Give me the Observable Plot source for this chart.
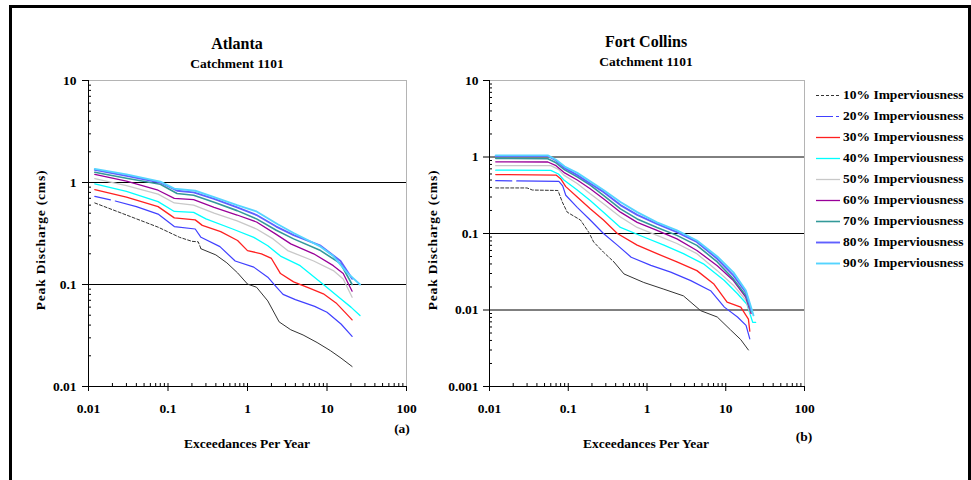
<!DOCTYPE html>
<html><head><meta charset="utf-8">
<script src="https://cdn.jsdelivr.net/npm/d3@7"></script>
<script src="https://cdn.jsdelivr.net/npm/@observablehq/plot@0.6"></script>
<style>
html,body{margin:0;padding:0;background:#fff;width:971px;height:480px;overflow:hidden;}
body{position:relative;font-family:"Liberation Serif","Times New Roman",serif;font-weight:bold;color:#000;}
.t{position:absolute;transform:translate(-50%,-50%);white-space:nowrap;font-size:13.5px;line-height:1;}
.title{font-size:16px;}
.rot{transform:translate(-50%,-50%) rotate(-90deg);letter-spacing:0.8px;}
.frame{position:absolute;left:9px;top:5px;width:956px;height:520px;border:3px solid #000;pointer-events:none;z-index:10;}
.panel{position:absolute;top:0;}
#legend{position:absolute;left:0;top:0;}
.lg{position:absolute;left:816px;height:20px;white-space:nowrap;font-size:13.5px;line-height:20px;}
.lg svg{position:absolute;left:0;top:0;}
.lg span{position:absolute;left:27px;top:0;}
</style></head><body>
<div id="left" class="panel" style="left:0px"></div>
<div id="right" class="panel" style="left:400px"></div>
<div class="t title" style="left:237px;top:44px">Atlanta</div>
<div class="t" style="left:237px;top:64px">Catchment 1101</div>
<div class="t title" style="left:646px;top:42px">Fort Collins</div>
<div class="t" style="left:646px;top:62px">Catchment 1101</div>
<div class="t rot" style="left:41px;top:240px">Peak Discharge (cms)</div>
<div class="t rot" style="left:433px;top:240px">Peak Discharge (cms)</div>
<div class="t" style="left:247px;top:444px">Exceedances Per Year</div>
<div class="t" style="left:646px;top:444px">Exceedances Per Year</div>
<div class="t" style="left:402px;top:429px">(a)</div>
<div class="t" style="left:804px;top:437px">(b)</div>
<div id="legend"></div>
<div class="frame"></div>
<script>
// ---- data ----
const seriesNames = ["10% Imperviousness","20% Imperviousness","30% Imperviousness","40% Imperviousness","50% Imperviousness","60% Imperviousness","70% Imperviousness","80% Imperviousness","90% Imperviousness"];
const xTicks = [0.01, 0.1, 1, 10, 100];
const atlantaYTicks = [0.01, 0.1, 1, 10];
const fortYTicks = [0.001, 0.01, 0.1, 1, 10];
const atlantaGrid = [0.1, 1];
const fortGrid = [0.01, 0.1, 1];

// Atlanta: [exceedances per year, peak discharge]
const atl10 = [[0.012,0.63],[0.03,0.48],[0.075,0.365],[0.14,0.29],[0.2,0.265],[0.24,0.262],[0.26,0.224],[0.4,0.195],[0.55,0.163],[0.75,0.13],[1.0,0.101],[1.3,0.094],[1.8,0.069],[2.5,0.043],[3.5,0.036],[5,0.032],[7.5,0.027],[11,0.0225],[15,0.019],[20.7,0.0157]];
const atl20 = [[0.012,0.73],[0.02,0.67],[0.04,0.58],[0.075,0.49],[0.12,0.37],[0.22,0.35],[0.26,0.29],[0.45,0.235],[0.7,0.17],[1.2,0.148],[1.8,0.118],[2.3,0.095],[2.8,0.08],[4,0.071],[7,0.061],[10,0.0535],[15,0.041],[20.7,0.031]];
const atl30 = [[0.012,0.85],[0.03,0.72],[0.075,0.58],[0.12,0.45],[0.22,0.43],[0.27,0.38],[0.46,0.33],[0.75,0.27],[1.0,0.215],[1.5,0.2],[2.0,0.18],[2.6,0.128],[3.8,0.106],[6,0.092],[9,0.081],[13,0.066],[17,0.053],[20.7,0.045]];
const atl40 = [[0.012,0.97],[0.03,0.82],[0.075,0.65],[0.12,0.52],[0.21,0.51],[0.3,0.44],[0.65,0.35],[1.2,0.29],[1.8,0.24],[2.6,0.19],[4.6,0.153],[9,0.1],[15,0.072],[20,0.06],[26,0.0497]];
const atl50 = [[0.012,1.09],[0.03,0.93],[0.075,0.77],[0.12,0.63],[0.21,0.6],[0.38,0.5],[0.74,0.42],[1.3,0.35],[2.1,0.28],[3.2,0.215],[6.8,0.17],[12,0.137],[16,0.113],[20.7,0.075]];
const atl60 = [[0.012,1.2],[0.03,1.03],[0.075,0.84],[0.12,0.7],[0.21,0.68],[0.38,0.57],[0.74,0.48],[1.3,0.41],[2.3,0.31],[3.5,0.25],[6.8,0.2],[12,0.153],[16,0.128],[20.7,0.086]];
const atl70 = [[0.012,1.26],[0.03,1.1],[0.08,0.96],[0.13,0.78],[0.21,0.75],[0.38,0.64],[0.74,0.53],[1.3,0.44],[2.3,0.34],[3.8,0.28],[8.3,0.215],[14.8,0.16],[20.7,0.1]];
const atl80 = [[0.012,1.33],[0.03,1.16],[0.08,1.0],[0.13,0.83],[0.21,0.8],[0.38,0.69],[0.74,0.57],[1.3,0.48],[2.3,0.37],[3.8,0.305],[8.3,0.24],[14.8,0.17],[20.7,0.114]];
const atl90 = [[0.012,1.36],[0.03,1.2],[0.08,1.02],[0.12,0.87],[0.22,0.83],[0.38,0.72],[0.74,0.6],[1.3,0.52],[2.4,0.39],[3.8,0.32],[8.3,0.235],[12,0.19],[18,0.13],[26,0.1]];

// Fort Collins
const fc10 = [[0.012,0.394],[0.03,0.394],[0.035,0.37],[0.074,0.365],[0.084,0.258],[0.097,0.19],[0.143,0.15],[0.183,0.103],[0.21,0.0775],[0.28,0.057],[0.38,0.0425],[0.51,0.0296],[0.91,0.0229],[1.64,0.0187],[2.9,0.0153],[4.8,0.0098],[7.8,0.0081],[11.5,0.0055],[15.5,0.0041],[19.4,0.003]];
const fc20 = [[0.012,0.49],[0.076,0.48],[0.085,0.42],[0.093,0.316],[0.13,0.22],[0.19,0.15],[0.28,0.1],[0.42,0.0705],[0.63,0.049],[1.12,0.0383],[2.0,0.0313],[3.6,0.0242],[6.5,0.0177],[9.6,0.0109],[14.1,0.0081],[18.1,0.0063],[20.2,0.0042]];
const fc30 = [[0.012,0.59],[0.07,0.58],[0.08,0.52],[0.093,0.41],[0.13,0.3],[0.19,0.211],[0.28,0.15],[0.42,0.1],[0.75,0.0705],[1.34,0.0545],[2.4,0.0425],[4.3,0.0327],[7.0,0.0221],[10.4,0.0127],[15.5,0.0109],[19.4,0.0076],[20.2,0.0053]];
const fc40 = [[0.012,0.673],[0.06,0.67],[0.075,0.6],[0.088,0.5],[0.13,0.37],[0.19,0.27],[0.28,0.19],[0.46,0.12],[0.91,0.09],[1.64,0.0705],[2.9,0.0545],[5.2,0.0401],[9.6,0.0243],[14.1,0.0163],[18.6,0.0119],[22,0.0069],[24,0.0069]];
const fc50 = [[0.012,0.77],[0.06,0.77],[0.075,0.69],[0.088,0.58],[0.13,0.45],[0.19,0.33],[0.28,0.245],[0.46,0.164],[0.75,0.12],[1.34,0.0945],[2.4,0.074],[4.3,0.0545],[7.8,0.0327],[12.5,0.0211],[18,0.0134],[20.7,0.0089]];
const fc60 = [[0.012,0.865],[0.055,0.86],[0.07,0.77],[0.09,0.62],[0.13,0.5],[0.19,0.385],[0.28,0.285],[0.46,0.19],[0.75,0.14],[1.34,0.11],[2.4,0.085],[4.3,0.06],[7.8,0.038],[12.5,0.0243],[18,0.0146],[21,0.009]];
const fc70 = [[0.012,0.96],[0.055,0.95],[0.07,0.84],[0.09,0.68],[0.13,0.55],[0.19,0.43],[0.28,0.315],[0.46,0.21],[0.75,0.155],[1.34,0.12],[2.4,0.0945],[4.3,0.07],[7.8,0.0425],[12.5,0.0255],[18,0.0155],[21,0.0095]];
const fc80 = [[0.012,1.03],[0.055,1.03],[0.07,0.9],[0.09,0.72],[0.13,0.58],[0.19,0.45],[0.28,0.35],[0.46,0.235],[0.75,0.175],[1.34,0.134],[2.4,0.104],[4.3,0.0775],[7.8,0.0467],[12.5,0.0283],[18,0.0171],[21,0.0099]];
const fc90 = [[0.012,1.05],[0.055,1.05],[0.07,0.92],[0.09,0.75],[0.13,0.62],[0.19,0.48],[0.28,0.37],[0.46,0.258],[0.75,0.19],[1.34,0.14],[2.4,0.11],[4.3,0.081],[7.8,0.05],[12.5,0.031],[18,0.018],[21.3,0.0103],[22.5,0.0085]];

const atlanta = [atl10, atl20, atl30, atl40, atl50, atl60, atl70, atl80, atl90];
const fortCollins = [fc10, fc20, fc30, fc40, fc50, fc60, fc70, fc80, fc90];

// ---- styles ----
const colors = ["#333333","#4040ff","#ff2020","#00ffff","#c8c8c8","#990099","#339999","#6060ff","#55d4ff"];
const widths = [1, 1.2, 1.3, 1.3, 1.3, 1.3, 1.6, 1.9, 1.9];
const dashes = ["3,2", "16,5,5000", null, null, null, null, null, null, null];

const minorX = [];
for (const e of [0.01, 0.1, 1, 10]) for (let k = 2; k <= 9; k++) minorX.push(+(e * k).toPrecision(3));
function minorY(lo) {
  const out = [];
  for (let e = lo; e < 10; e *= 10) for (let k = 2; k <= 9; k++) out.push(+(e * k).toPrecision(3));
  return out;
}
const fmt = d => String(d);

function panel(series, yDomain, yTicks, grid, width, ml, mr, yPad, dashCut) {
  const marks = [
    Plot.frame({stroke: "#b4b4b4"}),
    Plot.ruleY(grid, {stroke: "#000", strokeWidth: 1})
  ];
  series.forEach((s, i) => {
    const base = {x: d => d[0], y: d => d[1], stroke: colors[i], strokeWidth: widths[i], strokeLinejoin: "round"};
    if (i === 0) {
      marks.push(Plot.line(s.filter(d => d[0] <= dashCut), {...base, strokeDasharray: dashes[0]}));
      marks.push(Plot.line(s.filter(d => d[0] >= dashCut), base));
    } else {
      marks.push(Plot.line(s, dashes[i] ? {...base, strokeDasharray: dashes[i]} : base));
    }
  });
  marks.push(
    Plot.ruleX([0.01], {stroke: "#000"}),
    Plot.ruleY([yDomain[0]], {stroke: "#000"}),
    Plot.axisY({ticks: yTicks, tickSize: 6, tickPadding: yPad, tickFormat: fmt, fontSize: 13.5, label: null}),
    Plot.axisY({ticks: minorY(yDomain[0]), tickSize: 3, dx: 3, tickFormat: () => "", label: null}),
    Plot.axisX({ticks: xTicks, tickSize: 5, tickPadding: 12, tickFormat: fmt, fontSize: 13.5, label: null}),
    Plot.axisX({ticks: minorX.concat([0.1, 1, 10]), tickSize: 3, dy: -3, tickFormat: () => "", label: null})
  );
  return Plot.plot({
    width, height: 480,
    marginLeft: ml, marginRight: mr, marginTop: 80, marginBottom: 94,
    x: {type: "log", domain: [0.01, 100], label: null},
    y: {type: "log", domain: yDomain, label: null},
    style: {fontFamily: '"Liberation Serif", "Times New Roman", serif', fontWeight: "bold", fontSize: "13.5px", background: "transparent", color: "#000", overflow: "visible"},
    marks
  });
}

document.getElementById("left").append(panel(atlanta, [0.01, 10], atlantaYTicks, atlantaGrid, 480, 88, 74, 6, 0.26));
document.getElementById("right").append(panel(fortCollins, [0.001, 10], fortYTicks, fortGrid, 571, 89, 167, 5, 0.38));

// legend
const lg = document.getElementById("legend");
const legendDash = ["3,2", "17,3,3,10", null, null, null, null, null, null, null];
seriesNames.forEach((name, i) => {
  const row = document.createElement("div");
  row.className = "lg";
  row.style.top = (85 + 21 * i) + "px";
  row.innerHTML = `<svg width="26" height="20"><line x1="0" x2="24" y1="10.5" y2="10.5" stroke="${colors[i]}" stroke-width="${widths[i]}" ${legendDash[i] ? `stroke-dasharray="${legendDash[i]}"` : ""}/></svg><span>${name}</span>`;
  lg.append(row);
});
</script>
</body></html>
